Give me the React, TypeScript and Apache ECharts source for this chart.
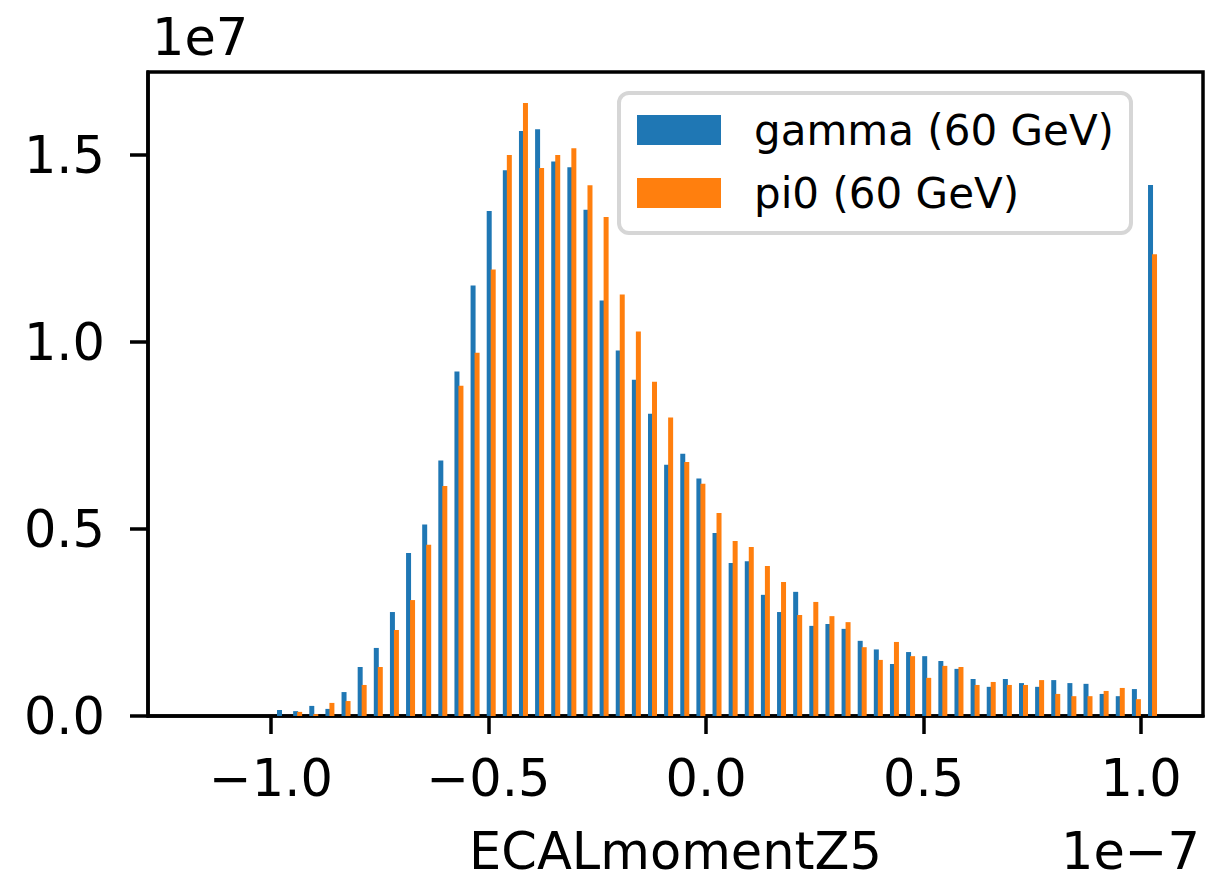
import React, { useEffect, useRef } from "react";
import * as echarts from "echarts";

// Histogram of ECALmomentZ5 (x in units of 1e-7, counts in units of 1e7)
const BIN_LO = -0.9944;
const BIN_WIDTH = 0.03708;

const gammaCounts = [
  0.016, 0.013, 0.027, 0.019, 0.064, 0.131, 0.182, 0.278, 0.436, 0.512,
  0.683, 0.921, 1.151, 1.35, 1.459, 1.564, 1.569, 1.483, 1.467, 1.354,
  1.111, 0.977, 0.899, 0.808, 0.672, 0.701, 0.635, 0.489, 0.409, 0.414,
  0.324, 0.278, 0.332, 0.241, 0.246, 0.233, 0.201, 0.178, 0.139, 0.171,
  0.16, 0.147, 0.126, 0.099, 0.078, 0.099, 0.088, 0.078, 0.096, 0.088,
  0.086, 0.059, 0.053, 0.072, 1.42,
];

const pi0Counts = [
  0.0, 0.011, 0.005, 0.035, 0.04, 0.083, 0.131, 0.23, 0.31, 0.458,
  0.615, 0.883, 0.971, 1.194, 1.5, 1.639, 1.465, 1.5, 1.518, 1.419,
  1.334, 1.127, 1.028, 0.894, 0.798, 0.679, 0.621, 0.543, 0.468, 0.452,
  0.401, 0.358, 0.27, 0.305, 0.267, 0.251, 0.184, 0.15, 0.198, 0.16,
  0.102, 0.134, 0.131, 0.083, 0.091, 0.083, 0.083, 0.096, 0.059, 0.053,
  0.053, 0.067, 0.075, 0.045, 1.235,
];

const seriesNames = ["gamma (60 GeV)", "pi0 (60 GeV)"];
const xTicks = [-1.0, -0.5, 0.0, 0.5, 1.0];
const yTicks = [0.0, 0.5, 1.0, 1.5];
const X_MIN = -1.2828;
const X_MAX = 1.1425;
const Y_MAX = 1.722;

const FONT = "DejaVu Sans";

const fmt = (v: number) => (v < 0 ? "\u2212" + Math.abs(v).toFixed(1) : v.toFixed(1));

export default function App() {
  const ref = useRef<HTMLDivElement>(null);

  useEffect(() => {
    if (!ref.current) return;
    const chart = echarts.init(ref.current, undefined, { renderer: "svg" });
    const centers = gammaCounts.map((_, i) => BIN_LO + (i + 0.5) * BIN_WIDTH);
    const gammaData = centers.map((c, i) => [c, gammaCounts[i]]);
    const pi0Data = centers.map((c, i) => [c, pi0Counts[i]]);

    const option: any = {
      animation: false,
      backgroundColor: "#ffffff",
      textStyle: { fontFamily: FONT },
      grid: {
        left: 148,
        right: 3,
        top: 72,
        bottom: 163,
        show: true,
        borderColor: "#000",
        borderWidth: 3.5,
        backgroundColor: "transparent",
      },
      xAxis: {
        type: "value",
        min: X_MIN,
        max: X_MAX,
        axisLine: { show: true, onZero: false, lineStyle: { color: "#000", width: 3.5 } },
        axisTick: {
          show: true,
          customValues: xTicks,
          length: 18,
          lineStyle: { color: "#000", width: 3.5 },
        },
        axisLabel: {
          customValues: xTicks,
          formatter: (v: number) => fmt(v),
          margin: 62,
          verticalAlign: "middle",
          fontSize: 51,
          fontFamily: FONT,
          color: "#000",
        },
        splitLine: { show: false },
      },
      yAxis: {
        type: "value",
        min: 0,
        max: Y_MAX,
        axisLine: { show: true, onZero: false, lineStyle: { color: "#000", width: 3.5 } },
        axisTick: {
          show: true,
          customValues: yTicks,
          length: 18,
          lineStyle: { color: "#000", width: 3.5 },
        },
        axisLabel: {
          customValues: yTicks,
          formatter: (v: number) => fmt(v),
          margin: 43,
          fontSize: 51,
          fontFamily: FONT,
          color: "#000",
        },
        splitLine: { show: false },
      },
      legend: {
        show: true,
        orient: "vertical",
        left: 619,
        top: 93,
        padding: [16, 17, 19, 18],
        itemWidth: 84,
        itemHeight: 30,
        itemGap: 21,
        icon: "rect",
        backgroundColor: "#ffffff",
        borderColor: "#d6d6d6",
        borderWidth: 4,
        borderRadius: 10,
        data: seriesNames,
        textStyle: {
          fontSize: 42,
          fontFamily: FONT,
          color: "#000",
          padding: [0, 0, 0, 28],
        },
      },
      series: [
        {
          name: seriesNames[0],
          type: "bar",
          data: gammaData,
          barWidth: 5,
          barGap: "-20%",
          itemStyle: { color: "#1f77b4" },
          emphasis: { disabled: true },
        },
        {
          name: seriesNames[1],
          type: "bar",
          data: pi0Data,
          barWidth: 5,
          barGap: "-20%",
          itemStyle: { color: "#ff7f0e" },
          emphasis: { disabled: true },
        },
      ],
      graphic: [
        {
          type: "text",
          left: 152,
          top: 12,
          style: { text: "1e7", fontSize: 51, fontFamily: FONT, fill: "#000" },
        },
        {
          type: "text",
          x: 675.5,
          y: 851,
          style: {
            text: "ECALmomentZ5",
            fontSize: 51,
            lineHeight: 48,
            fontFamily: FONT,
            fill: "#000",
            align: "center",
            verticalAlign: "middle",
          },
        },
        {
          type: "text",
          x: 1200,
          y: 851,
          style: {
            text: "1e\u22127",
            fontSize: 51,
            lineHeight: 48,
            fontFamily: FONT,
            fill: "#000",
            align: "right",
            verticalAlign: "middle",
          },
        },
      ],
    };
    chart.setOption(option);
    return () => chart.dispose();
  }, []);

  return (
    <div
      ref={ref}
      style={{ position: "fixed", left: 0, top: 0, width: 1206, height: 879, background: "#fff" }}
    />
  );
}
